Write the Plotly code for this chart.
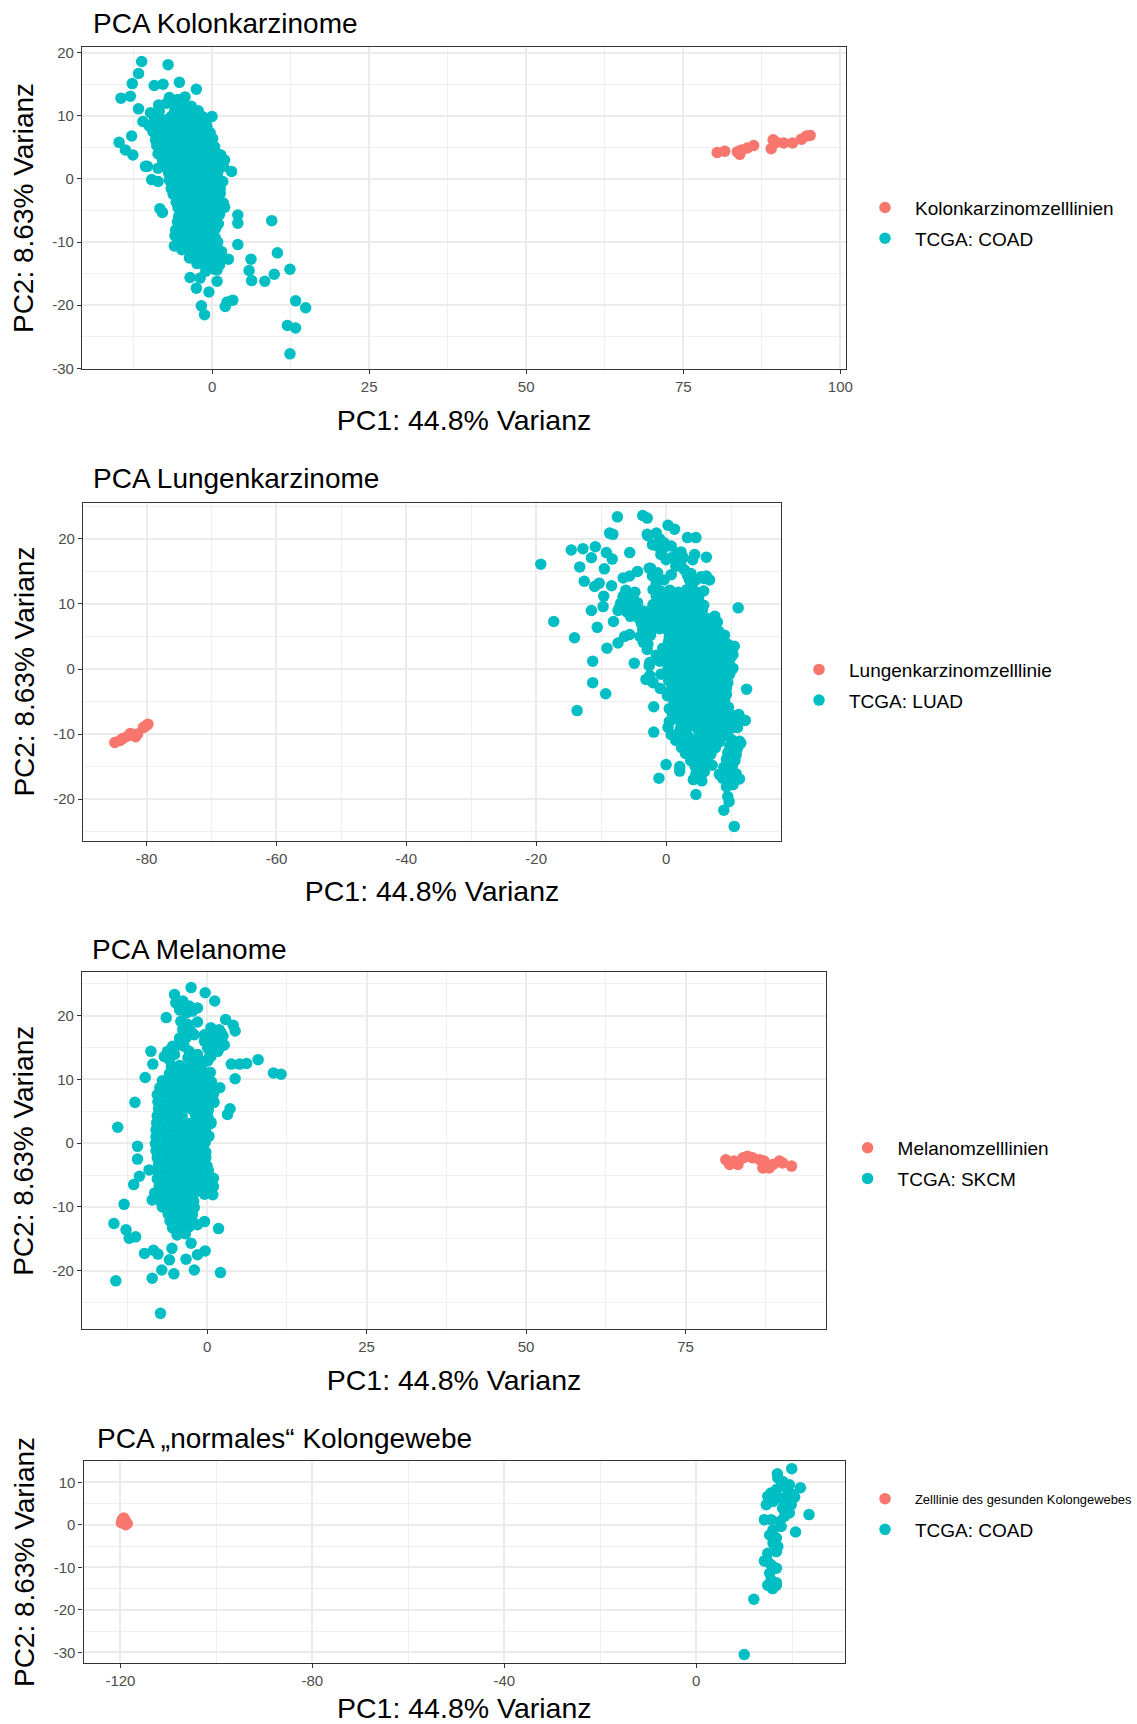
import plotly.graph_objects as go

FONT = "Liberation Sans, Arial, Helvetica, sans-serif"
RED = "#F8766D"
TEAL = "#00BFC4"
W, H = 1137, 1724

# ---------------- text ----------------
panel_titles = ["PCA Kolonkarzinome", "PCA Lungenkarzinome", "PCA Melanome",
                "PCA \u201enormales\u201c Kolongewebe"]
x_title = "PC1: 44.8% Varianz"
y_title = "PC2: 8.63% Varianz"
legend_names = [("Kolonkarzinomzelllinien", "TCGA: COAD"),
                ("Lungenkarzinomzelllinie", "TCGA: LUAD"),
                ("Melanomzelllinien", "TCGA: SKCM"),
                ("Zelllinie des gesunden Kolongewebes", "TCGA: COAD")]

# ---------------- ticks ----------------
x_tick_vals = [[0, 25, 50, 75, 100], [-80, -60, -40, -20, 0], [0, 25, 50, 75], [-120, -80, -40, 0]]
y_tick_vals = [[-30, -20, -10, 0, 10, 20], [-20, -10, 0, 10, 20], [-20, -10, 0, 10, 20],
               [-30, -20, -10, 0, 10]]
x_minor_vals = [[-12.5, 12.5, 37.5, 62.5, 87.5], [-70, -50, -30, -10, 10],
                [-12.5, 12.5, 37.5, 62.5, 87.5], [-100, -60, -20, 20]]
y_minor_vals = [[-25, -15, -5, 5, 15], [-25, -15, -5, 5, 15, 25], [-25, -15, -5, 5, 15, 25],
                [-25, -15, -5, 5, 15]]

# ---------------- data (PC1, PC2) ----------------
kolon_cells = [(80.4, 4.2), (81.6, 4.4), (83.6, 4.3), (84.3, 4.6), (84.0, 3.9), (85.2, 4.9),
               (86.2, 5.3), (89.3, 6.2), (89.8, 5.8), (89.0, 4.8), (91.0, 5.7), (92.4, 5.7),
               (93.8, 6.3), (94.6, 6.8), (95.2, 6.9)]

coad_tumor = [
    (-11.2, 18.6), (-7.0, 18.1), (-11.7, 16.7), (-12.7, 15.1), (-14.5, 12.8), (-13.0, 13.1),
    (-9.2, 14.8), (-7.8, 15.0), (-5.2, 15.3), (-2.5, 14.2), (-11.7, 11.1), (-12.8, 6.8),
    (-14.8, 5.8), (-13.8, 4.6), (-12.6, 3.8), (-11.0, 9.1), (0.0, 9.9), (-0.8, 8.1),
    (-10.3, 2.0), (-8.6, 1.7), (-9.6, -0.1), (-8.6, -0.4), (3.1, 1.2), (-8.3, -4.7),
    (-7.9, -5.3), (4.1, -5.7), (4.1, -7.0), (9.5, -6.6), (4.1, -10.4), (2.6, -12.7),
    (10.4, -11.7), (6.2, -12.7), (5.9, -14.5), (6.3, -16.1), (8.4, -16.2), (9.9, -15.1),
    (12.4, -14.3), (13.3, -19.3), (14.9, -20.4), (12.0, -23.2), (13.3, -23.6), (12.4, -27.7),
    (2.4, -19.5), (3.3, -19.2), (2.1, -20.2), (-1.7, -20.1), (-1.2, -21.5), (-0.5, -17.9),
    (-3.5, -15.6), (-2.5, -17.3), (-1.9, -15.7), (0.8, -16.2), (0.8, -14.4), (-6.0, -10.6),
    (-5.0, -8.5), (-10.6, 2.0),
    (-6.8, 12.9), (-5.5, 12.6), (-4.3, 13.0),
    (-8.5, 11.7), (-7.2, 12.0), (-5.9, 11.6), (-4.6, 11.9), (-3.3, 11.5),
    (-9.8, 10.5), (-8.4, 10.8), (-6.0, 10.6), (-4.8, 10.9), (-3.5, 10.5), (-2.2, 10.8),
    (-9.2, 9.7), (-7.9, 9.4), (-6.6, 9.8), (-5.3, 9.5), (-4.0, 9.7), (-2.7, 9.4), (-1.4, 9.8),
    (-10.0, 8.4), (-8.7, 8.7), (-7.4, 8.3), (-6.1, 8.6), (-4.8, 8.4), (-3.5, 8.7), (-2.2, 8.3),
    (-0.9, 8.6),
    (-9.4, 7.5), (-8.1, 7.2), (-6.8, 7.6), (-5.5, 7.3), (-4.2, 7.5), (-2.9, 7.2), (-1.6, 7.6),
    (-0.3, 7.3),
    (-9.0, 6.2), (-7.7, 6.5), (-6.4, 6.1), (-5.1, 6.4), (-3.8, 6.2), (-2.5, 6.5), (-1.2, 6.1),
    (0.1, 6.4),
    (-8.8, 5.3), (-7.5, 5.0), (-6.2, 5.4), (-4.9, 5.1), (-3.6, 5.3), (-2.3, 5.0), (-1.0, 5.4),
    (0.4, 5.1),
    (-8.6, 4.0), (-7.3, 4.3), (-6.0, 3.9), (-4.7, 4.2), (-3.4, 4.0), (-2.1, 4.3), (-0.8, 3.9),
    (0.6, 4.2), (1.4, 3.8),
    (-7.9, 3.1), (-6.6, 2.8), (-5.3, 3.2), (-4.0, 2.9), (-2.7, 3.1), (-1.4, 2.8), (-0.1, 3.2),
    (1.2, 2.9), (2.0, 3.0),
    (-7.3, 1.8), (-6.0, 2.1), (-4.7, 1.7), (-3.4, 2.0), (-2.1, 1.8), (-0.8, 2.1), (0.5, 1.7),
    (1.8, 2.0),
    (-6.9, 0.9), (-5.6, 0.6), (-4.3, 1.0), (-3.0, 0.7), (-1.7, 0.9), (-0.4, 0.6), (0.9, 1.0),
    (-6.8, -0.2), (-5.5, -0.5), (-4.2, -0.1), (-2.9, -0.4), (-1.6, -0.2), (-0.3, -0.5),
    (1.0, -0.1), (1.7, -0.4),
    (-6.5, -1.5), (-5.2, -1.2), (-3.9, -1.6), (-2.6, -1.3), (-1.3, -1.5), (0.0, -1.2), (1.3, -1.6),
    (-6.2, -2.4), (-4.9, -2.7), (-3.6, -2.3), (-2.3, -2.6), (-1.0, -2.4), (0.3, -2.7), (1.3, -2.3),
    (-5.7, -3.7), (-4.4, -3.4), (-3.1, -3.8), (-1.8, -3.5), (-0.5, -3.7), (0.8, -3.4), (1.8, -3.8),
    (-5.4, -4.6), (-4.1, -4.9), (-2.8, -4.5), (-1.5, -4.8), (-0.2, -4.6), (1.1, -4.9), (2.0, -4.5),
    (-5.3, -5.9), (-4.0, -5.6), (-2.7, -6.0), (-1.4, -5.7), (-0.1, -5.9), (1.2, -5.6),
    (-5.5, -6.8), (-4.2, -7.1), (-2.9, -6.7), (-1.6, -7.0), (-0.3, -6.8), (1.0, -7.1),
    (-5.8, -8.1), (-4.5, -7.8), (-3.2, -8.2), (-1.9, -7.9), (-0.6, -8.1), (0.6, -7.8),
    (-5.9, -9.0), (-4.6, -9.3), (-3.3, -8.9), (-2.0, -9.2), (-0.7, -9.0), (0.5, -9.3),
    (-5.6, -10.3), (-4.3, -10.0), (-3.0, -10.4), (-1.7, -10.1), (-0.4, -10.3), (0.9, -10.0),
    (-4.8, -11.2), (-3.5, -11.5), (-2.2, -11.1), (-0.9, -11.4), (0.4, -11.2), (1.5, -11.5),
    (-3.6, -12.5), (-2.3, -12.2), (-1.0, -12.6), (0.3, -12.3), (1.6, -12.5),
    (-2.4, -13.4), (-1.1, -13.7), (0.2, -13.3), (1.2, -13.6),
    (-1.0, -14.6), (0.4, -14.3)]

lung_cells = [(-84.9, -11.3), (-84.1, -11.0), (-83.7, -10.7), (-82.9, -10.3), (-82.5, -9.9),
              (-81.7, -10.4), (-81.4, -10.0), (-80.5, -9.0), (-80.2, -8.8), (-79.8, -8.5)]

luad_tumor = [
    (-19.3, 16.1), (-17.3, 7.3), (-14.1, 4.8), (-13.7, -6.4), (-11.3, 1.2), (-11.3, -2.1),
    (-9.3, -3.8), (-9.1, 3.2), (-10.6, 6.4), (-11.5, 9.0), (-8.1, 7.3), (-9.7, 9.6),
    (-11.0, 12.7), (-10.3, 13.2), (-9.6, 11.2), (-8.4, 12.8), (-12.6, 13.5), (-13.3, 15.7),
    (-9.5, 15.4), (-14.6, 18.3), (-12.8, 18.5), (-10.9, 18.8), (-11.5, 17.1), (-9.2, 17.9),
    (-8.3, 16.9), (-7.5, 23.4), (-8.7, 20.9), (-8.2, 20.7), (-5.6, 17.9), (-3.6, 23.6),
    (-2.9, 23.2), (-2.9, 20.7), (0.3, 22.1), (1.3, 21.5), (3.3, 20.2), (4.6, 20.2),
    (6.2, 17.2), (4.4, 17.6), (4.1, 16.8), (6.2, 14.3), (6.7, 13.7), (11.1, 9.4),
    (12.4, -3.1), (10.5, 3.5), (10.3, 2.2), (11.8, -7.8), (-1.9, -5.8), (-1.9, -9.7),
    (0.0, -14.7), (-1.1, -16.8), (2.1, -15.0), (2.1, -15.7), (4.6, -19.3), (8.9, -21.7),
    (10.5, -24.2), (9.5, -19.6), (9.7, -20.4), (11.5, -11.4), (-4.9, 0.9), (-5.6, 5.3),
    (-7.4, 4.0), (-6.4, 5.0), (-3.1, -1.6), (-2.6, 0.5), (-6.6, 14.0), (-5.6, 14.3),
    (-4.4, 15.0), (-2.4, 15.5), (-6.6, 11.2), (-7.2, 9.4), (-4.9, 9.1), (-3.8, 8.4),
    (-2.8, 20.5), (-1.5, 20.9), (-1.0, 20.0), (-2.1, 19.1), (-1.3, 18.9), (-0.3, 19.4),
    (-0.5, 18.4), (0.8, 18.9), (-0.8, 17.6), (0.0, 16.8), (0.8, 17.1), (1.8, 17.8),
    (2.3, 16.6), (1.5, 15.8), (2.8, 15.3), (0.8, 14.5), (-0.3, 13.7), (-1.5, 13.2),
    (3.3, 14.4), (4.1, 13.2), (-2.6, 15.5), (-2.1, 14.3), (-1.3, 14.8), (2.3, 18.0),
    (2.6, 17.2), (1.5, 16.8), (2.1, 16.0), (3.8, 14.7), (3.6, 13.7), (4.6, 13.7),
    (5.4, 14.2), (5.9, 13.9),
    (-6.2, 12.1), (-4.8, 11.8), (-2.0, 12.2), (-0.7, 11.9), (0.6, 12.1), (1.9, 11.8),
    (3.2, 12.2), (4.5, 11.9), (5.8, 12.0),
    (-6.6, 11.0), (-5.3, 10.8), (-1.5, 11.2), (-0.2, 10.9), (1.1, 11.1), (2.4, 10.8),
    (3.7, 11.2), (5.0, 10.9),
    (-7.0, 10.1), (-5.7, 9.8), (-4.4, 10.2), (-2.0, 9.9), (-0.7, 10.1), (0.6, 9.8),
    (1.9, 10.2), (3.2, 9.9), (4.5, 10.1), (5.8, 9.8),
    (-7.4, 9.0), (-6.1, 8.8), (-4.8, 9.1), (-3.5, 8.9), (-2.2, 9.2), (-0.9, 8.8), (0.4, 9.1),
    (1.7, 8.9), (3.0, 9.2), (4.3, 8.8), (5.6, 9.1),
    (-5.5, 8.1), (-4.2, 7.8), (-2.9, 8.2), (-1.6, 7.9), (-0.3, 8.1), (1.0, 7.8), (2.3, 8.2),
    (3.6, 7.9), (4.9, 8.1), (6.2, 7.8), (7.5, 8.1),
    (-3.8, 7.0), (-2.5, 7.2), (-1.2, 6.8), (0.1, 7.1), (1.4, 6.9), (2.7, 7.2), (4.0, 6.8),
    (5.3, 7.1), (6.6, 6.9), (7.9, 7.2),
    (-3.6, 6.1), (-2.3, 5.8), (-1.0, 6.2), (0.3, 5.9), (1.6, 6.1), (2.9, 5.8), (4.2, 6.2),
    (5.5, 5.9), (6.8, 6.1), (8.1, 5.8),
    (-4.0, 5.0), (-2.4, 5.2), (0.5, 4.8), (1.8, 5.1), (3.1, 4.9), (4.4, 5.2), (5.7, 4.8),
    (7.0, 5.1), (8.3, 4.9), (9.0, 5.2),
    (-3.5, 4.1), (-2.8, 3.8), (0.4, 4.2), (1.7, 3.9), (3.0, 4.1), (4.3, 3.8), (5.6, 4.2),
    (6.9, 3.9), (8.2, 4.1), (9.5, 3.8),
    (-2.9, 3.0), (-0.5, 3.2), (0.8, 2.8), (2.1, 3.1), (3.4, 2.9), (4.7, 3.2), (6.0, 2.8),
    (7.3, 3.1), (8.6, 2.9), (9.9, 3.2),
    (-1.5, 2.1), (0.0, 1.8), (1.3, 2.2), (2.6, 1.9), (3.9, 2.1), (5.2, 1.8), (6.5, 2.2),
    (7.8, 1.9), (9.1, 2.1), (10.0, 1.8),
    (-2.5, 1.0), (-1.0, 1.2), (0.6, 0.8), (1.9, 1.1), (3.2, 0.9), (4.5, 1.2), (5.8, 0.8),
    (7.1, 1.1), (8.4, 0.9), (9.7, 1.2),
    (0.3, 0.1), (1.6, -0.2), (2.9, 0.2), (4.2, -0.1), (5.5, 0.1), (6.8, -0.2), (8.1, 0.2),
    (9.4, -0.1), (10.3, 0.1),
    (-2.5, -1.0), (-0.8, -0.8), (0.8, -1.2), (2.1, -0.9), (3.4, -1.1), (4.7, -0.8), (6.0, -1.2),
    (7.3, -0.9), (8.6, -1.1), (9.8, -0.8),
    (-2.0, -2.1), (0.4, -1.8), (1.7, -2.2), (3.0, -1.9), (4.3, -2.1), (5.6, -1.8), (6.9, -2.2),
    (8.2, -1.9), (9.5, -2.1),
    (-0.9, -3.0), (0.8, -3.2), (2.1, -2.8), (3.4, -3.1), (4.7, -2.9), (6.0, -3.2), (7.3, -2.8),
    (8.6, -3.1), (9.3, -2.9),
    (0.2, -4.1), (1.9, -3.8), (3.2, -4.2), (4.5, -3.9), (5.8, -4.1), (7.1, -3.8), (8.4, -4.2),
    (9.3, -3.9),
    (1.2, -5.0), (2.5, -5.2), (3.8, -4.8), (5.1, -5.1), (6.4, -4.9), (7.7, -5.2), (9.0, -4.8),
    (0.5, -6.1), (2.0, -5.8), (3.3, -6.2), (4.6, -5.9), (5.9, -6.1), (7.2, -5.8), (8.5, -6.2),
    (9.6, -5.9),
    (1.0, -7.0), (2.4, -7.2), (3.7, -6.8), (5.0, -7.1), (6.3, -6.9), (7.6, -7.2), (8.9, -6.8),
    (10.2, -7.1), (11.2, -7.0),
    (0.5, -8.1), (1.8, -7.8), (3.1, -8.2), (4.4, -7.9), (5.7, -8.1), (7.0, -7.8), (8.3, -8.2),
    (9.6, -7.9), (10.9, -8.1), (12.2, -7.9),
    (0.3, -9.0), (2.2, -9.2), (3.5, -8.8), (4.8, -9.1), (6.1, -8.9), (7.4, -9.2), (8.7, -8.8),
    (10.0, -9.1), (11.0, -9.0),
    (0.8, -10.1), (2.0, -9.8), (3.3, -10.2), (5.2, -9.9), (6.5, -10.1), (7.8, -9.8), (9.1, -10.2),
    (1.5, -11.0), (3.0, -11.2), (4.3, -10.8), (5.6, -11.1), (6.9, -10.9), (8.2, -11.2),
    (10.0, -10.8), (11.3, -11.1),
    (2.4, -12.1), (3.7, -11.8), (5.0, -12.2), (6.3, -11.9), (7.6, -12.1), (9.8, -11.8),
    (11.0, -12.2),
    (3.0, -13.0), (4.3, -13.2), (5.6, -12.8), (6.9, -13.1), (9.5, -12.9), (10.8, -13.2),
    (3.8, -14.1), (5.1, -13.8), (6.4, -14.2), (9.3, -13.9), (10.6, -14.1),
    (4.5, -15.0), (5.8, -15.2), (7.1, -14.8), (8.9, -15.1), (10.2, -14.9),
    (4.6, -16.1), (5.9, -15.8), (8.2, -16.2), (9.5, -15.9), (10.8, -16.1),
    (4.2, -17.0), (5.5, -17.2), (8.7, -16.8), (10.0, -17.1), (11.3, -16.9),
    (9.3, -18.1), (10.3, -17.8)]

melanom_cells = [(81.3, -2.6), (81.9, -3.35), (82.6, -2.8), (83.2, -3.35), (84.0, -2.3),
                 (84.7, -2.05), (85.5, -2.3), (86.6, -2.6), (87.3, -2.8), (87.1, -3.9),
                 (88.1, -3.9), (88.7, -3.35), (89.7, -2.8), (90.2, -3.1), (91.6, -3.6)]

skcm_tumor = [
    (-2.5, 24.4), (-5.1, 23.3), (-0.3, 23.6), (1.2, 22.3), (-6.4, 19.7), (-1.5, 19.0),
    (2.9, 19.4), (4.1, 18.5), (4.4, 17.6), (-8.8, 14.4), (-8.5, 12.4), (-9.7, 10.3),
    (-11.3, 6.4), (-14.0, 2.5), (-10.9, -0.5), (-10.9, -2.5), (-9.1, -4.2), (-10.6, -5.2),
    (-11.5, -6.5), (-13.0, -9.6), (-14.6, -12.6), (-12.7, -13.6), (-12.2, -14.9),
    (-11.2, -14.7), (-9.8, -17.3), (-8.4, -16.8), (-7.7, -17.4), (-14.3, -21.6),
    (-8.6, -21.2), (-7.1, -19.9), (-5.2, -20.5), (-5.9, -18.3), (-5.5, -16.5), (-3.3, -18.2),
    (-2.0, -19.9), (-2.5, -15.7), (-1.5, -17.5), (-0.3, -16.9), (2.1, -20.3), (1.8, -13.4),
    (-0.4, -12.3), (-1.5, -12.8), (-7.3, -26.7), (0.6, -7.6), (0.6, -5.8), (0.9, -8.1),
    (-0.2, -2.3), (0.6, 3.1), (0.1, 4.2), (3.2, 4.5), (3.6, 5.4), (2.0, 8.7), (3.8, 12.4),
    (4.4, 10.1), (5.1, 12.4), (6.2, 12.5), (8.0, 13.1), (10.4, 11.0), (11.6, 10.8),
    (2.7, 15.4), (1.7, 14.4), (0.6, 13.6), (0.1, 12.9), (0.9, 17.5), (2.2, 17.3),
    (-0.4, 16.0), (0.1, 16.5),
    (-4.9, 22.0), (-3.8, 22.3), (-2.8, 21.5), (-4.3, 20.9), (-3.3, 20.4), (-2.3, 20.7),
    (-1.5, 21.2), (-4.1, 19.1), (-3.0, 18.6), (-2.5, 17.5), (-3.8, 17.8), (-3.3, 16.5),
    (-2.0, 17.0), (-4.3, 16.5), (-4.6, 15.4), (-5.4, 15.2), (-6.2, 14.4), (-6.7, 13.6),
    (-5.9, 13.1), (-5.1, 13.9), (-3.6, 15.2), (-2.8, 14.4), (-3.0, 13.4), (-2.0, 12.8),
    (-1.5, 13.9), (-0.9, 11.5),
    (-0.4, 17.0), (0.6, 17.3), (1.4, 16.5), (0.9, 15.4), (0.1, 14.9), (1.2, 14.4),
    (2.2, 15.2), (2.5, 16.8), (1.9, 17.8), (0.6, 18.1), (0.4, 13.6), (-0.4, 12.8),
    (-5.6, 12.0), (-4.3, 12.2), (-3.0, 11.8), (-1.7, 12.1),
    (-5.9, 10.9), (-4.6, 11.1), (-3.3, 10.7), (-2.0, 11.0), (-0.7, 10.8), (0.5, 11.1),
    (-7.0, 9.8), (-5.7, 10.0), (-4.4, 9.6), (-3.1, 9.9), (-1.8, 9.7), (-0.5, 10.0), (0.7, 9.6),
    (-7.4, 8.7), (-6.1, 8.5), (-4.8, 8.9), (-3.5, 8.6), (-2.2, 8.8), (-0.9, 8.5), (0.4, 8.9),
    (-7.8, 7.6), (-6.5, 7.8), (-5.2, 7.4), (-3.9, 7.7), (-2.6, 7.5), (-1.3, 7.8), (0.0, 7.4),
    (1.0, 7.7),
    (-7.7, 6.5), (-6.4, 6.3), (-5.1, 6.7), (-3.8, 6.4), (-2.5, 6.6), (-1.2, 6.3), (0.1, 6.7),
    (1.1, 6.4),
    (-7.6, 5.4), (-6.3, 5.6), (-5.0, 5.2), (-3.7, 5.5), (-2.4, 5.3), (-1.1, 5.6), (0.2, 5.2),
    (-7.8, 4.3), (-6.5, 4.1), (-5.2, 4.5), (-3.9, 4.2), (-1.8, 4.4), (-0.5, 4.1),
    (-7.9, 3.2), (-6.6, 3.4), (-5.3, 3.0), (-4.0, 3.3), (-2.7, 3.1), (-1.4, 3.4), (-0.1, 3.0),
    (0.6, 3.3),
    (-8.0, 2.1), (-6.7, 1.9), (-5.4, 2.3), (-4.1, 2.0), (-2.8, 2.2), (-1.5, 1.9), (-0.2, 2.3),
    (-8.0, 1.0), (-6.7, 1.2), (-5.4, 0.8), (-4.1, 1.1), (-2.8, 0.9), (-1.5, 1.2), (-0.2, 0.8),
    (0.3, 1.1),
    (-8.1, -0.1), (-6.8, -0.3), (-5.5, 0.1), (-4.2, -0.2), (-2.9, 0.0), (-1.6, -0.3), (-0.3, 0.1),
    (-8.0, -1.2), (-6.7, -1.0), (-5.4, -1.4), (-4.1, -1.1), (-2.8, -1.3), (-1.5, -1.0),
    (-0.2, -1.4),
    (-7.8, -2.3), (-6.5, -2.5), (-5.2, -2.1), (-3.9, -2.4), (-2.6, -2.2), (-1.3, -2.5),
    (-0.3, -2.1),
    (-7.6, -3.4), (-6.3, -3.2), (-5.0, -3.6), (-3.7, -3.3), (-2.4, -3.5), (-1.1, -3.2),
    (0.0, -3.6),
    (-7.7, -4.5), (-6.4, -4.7), (-5.1, -4.3), (-3.8, -4.6), (-2.5, -4.4), (-1.2, -4.7),
    (0.2, -4.3),
    (-7.8, -5.6), (-6.5, -5.4), (-5.2, -5.8), (-3.9, -5.5), (-2.6, -5.7), (-1.3, -5.4),
    (0.0, -5.8), (1.0, -5.5),
    (-7.5, -6.7), (-6.2, -6.9), (-4.9, -6.5), (-3.6, -6.8), (-2.3, -6.6), (-1.0, -6.9),
    (0.3, -6.5), (1.0, -6.8),
    (-8.2, -7.8), (-6.9, -7.6), (-5.6, -8.0), (-4.3, -7.7), (-3.0, -7.9), (-1.7, -7.6),
    (-0.4, -8.0),
    (-8.6, -8.9), (-7.3, -9.1), (-6.0, -8.7), (-4.7, -9.0), (-3.4, -8.8), (-2.1, -9.1),
    (-7.0, -10.0), (-5.7, -9.8), (-4.4, -10.2), (-3.1, -9.9), (-2.0, -10.1),
    (-6.1, -11.1), (-4.8, -11.3), (-3.5, -10.9), (-2.3, -11.2),
    (-5.8, -12.2), (-4.5, -12.0), (-3.2, -12.4), (-2.4, -12.1),
    (-5.4, -13.3), (-4.1, -13.5), (-2.8, -13.1),
    (-4.7, -14.4), (-3.4, -14.2)]

normal_cells = [(-119.8, 0.5), (-119.0, 1.0), (-118.6, 0.3), (-119.3, 1.6), (-118.9, 0.0),
                (-119.6, 1.2)]

coad_normal = [
    (19.9, 13.2), (16.9, 12.0), (18.0, 10.2), (19.4, 9.4), (17.7, 9.1), (16.7, 8.3),
    (15.6, 7.5), (14.9, 6.7), (21.7, 8.7), (20.5, 6.5), (19.1, 7.2), (14.6, 4.7),
    (18.0, 3.9), (19.4, 2.8), (18.4, 2.0), (17.4, 0.8), (15.6, 1.2), (14.2, 1.2),
    (23.5, 2.4), (20.7, -1.7), (15.3, -2.4), (16.7, -3.1), (14.9, -6.7), (16.7, -6.3),
    (14.2, -8.5), (15.6, -9.4), (16.7, -10.2), (15.3, -11.4), (14.9, -14.2), (15.9, -15.0),
    (16.7, -14.2), (12.0, -17.5), (10.0, -30.5), (17.0, 11.0), (18.8, 8.7), (17.4, 6.3),
    (16.0, 5.5), (18.8, 5.5), (19.8, 4.7), (20.1, 7.1), (17.7, -0.4), (16.0, -1.2),
    (16.0, -4.3), (17.0, -5.1), (14.9, -8.7), (15.6, -13.0), (16.7, -13.6)]

series = [(kolon_cells, coad_tumor), (lung_cells, luad_tumor),
          (melanom_cells, skcm_tumor), (normal_cells, coad_normal)]

# ---------------- layout geometry (pixels) ----------------
# plot box: left, right, top, bottom
boxes = [(82, 846, 47, 369), (83, 781, 502.5, 840.7), (82, 826, 972.3, 1329.3), (83.5, 845, 1461, 1663)]
x_ranges = [[-20.7, 100.9], [-89.8, 17.7], [-19.6, 97.0], [-127.7, 31.0]]
y_ranges = [[-30.1, 20.9], [-26.4, 25.6], [-29.2, 26.8], [-32.5, 15.0]]
title_pos = [(91, 23), (91, 478), (90, 949), (95, 1438)]
# legend marker centre x, and y of each entry (red, teal)
legend_pos = [(885, 207.8, 238.6), (819, 670.8, 699.3), (867.6, 1149, 1177.7), (885, 1498.8, 1529.5)]


def px(xp):
    return xp / W


def py(yp):
    return 1 - yp / H


fig = go.Figure()

legend_ids = ["legend", "legend2", "legend3", "legend4"]
for i, (red_pts, teal_pts) in enumerate(series):
    n = "" if i == 0 else str(i + 1)
    red_leg = legend_ids[i]
    teal_leg = legend_ids[i] if i < 3 else "legend5"
    fig.add_trace(go.Scatter(
        x=[p[0] for p in red_pts], y=[p[1] for p in red_pts], mode="markers",
        name=legend_names[i][0], legend=red_leg, legendgroup=f"r{i}",
        marker=dict(color=RED, size=11.5, line=dict(width=0)),
        xaxis="x" + n, yaxis="y" + n))
    fig.add_trace(go.Scatter(
        x=[p[0] for p in teal_pts], y=[p[1] for p in teal_pts], mode="markers",
        name=legend_names[i][1], legend=teal_leg, legendgroup=f"t{i}",
        marker=dict(color=TEAL, size=11.5, line=dict(width=0)),
        xaxis="x" + n, yaxis="y" + n))


def axis(rng, vals, minor_vals, domain, anchor, title, standoff, tsize):
    return dict(
        domain=domain, anchor=anchor, range=rng, autorange=False,
        tickmode="array", tickvals=vals, ticktext=[str(v) for v in vals],
        minor=dict(tickmode="array", tickvals=minor_vals, showgrid=True,
                   gridcolor="#EFEFEF", gridwidth=1.1, ticks=""),
        showgrid=True, gridcolor="#EBEBEB", gridwidth=1.5, zeroline=False,
        showline=True, mirror=True, linecolor="#333333", linewidth=1.2,
        ticks="outside", ticklen=4, tickwidth=1.1, tickcolor="#333333",
        tickfont=dict(family=FONT, size=15, color="#4D4D4D"),
        title=dict(text=title, font=dict(family=FONT, size=tsize, color="black"), standoff=standoff),
        automargin=False, fixedrange=True)


layout = dict(
    width=W, height=H, margin=dict(l=0, r=0, t=0, b=0),
    paper_bgcolor="white", plot_bgcolor="white", showlegend=True,
    font=dict(family=FONT, color="black"),
)
annotations = []
for i in range(4):
    n = "" if i == 0 else str(i + 1)
    l, r, t, b = boxes[i]
    layout["xaxis" + n] = axis(x_ranges[i], x_tick_vals[i], x_minor_vals[i], [px(l), px(r)],
                               "y" + n, x_title, 15, 28.5)
    layout["yaxis" + n] = axis(y_ranges[i], y_tick_vals[i], y_minor_vals[i], [py(b), py(t)],
                               "x" + n, y_title, 10, 28)
    tx, ty = title_pos[i]
    annotations.append(dict(text=panel_titles[i], x=px(tx), y=py(ty), xref="paper", yref="paper",
                            xanchor="left", yanchor="middle", showarrow=False,
                            font=dict(family=FONT, size=28, color="black")))
layout["annotations"] = annotations


def legend(mx, ymid, size):
    return dict(x=px(mx - 30), y=py(ymid), xref="paper", yref="paper", xanchor="left",
                yanchor="middle", font=dict(family=FONT, size=size, color="black"),
                bgcolor="rgba(0,0,0,0)", borderwidth=0, itemwidth=50, tracegroupgap=3,
                itemsizing="trace", itemclick=False, itemdoubleclick=False)


for i in range(3):
    mx, y1, y2 = legend_pos[i]
    layout[legend_ids[i]] = legend(mx, (y1 + y2) / 2, 19)
mx, y1, y2 = legend_pos[3]
layout["legend4"] = legend(mx, y1, 12.9)
layout["legend5"] = legend(mx, y2, 19)

fig.update_layout(**layout)
fig.write_html("out.html", config={"displayModeBar": False})
